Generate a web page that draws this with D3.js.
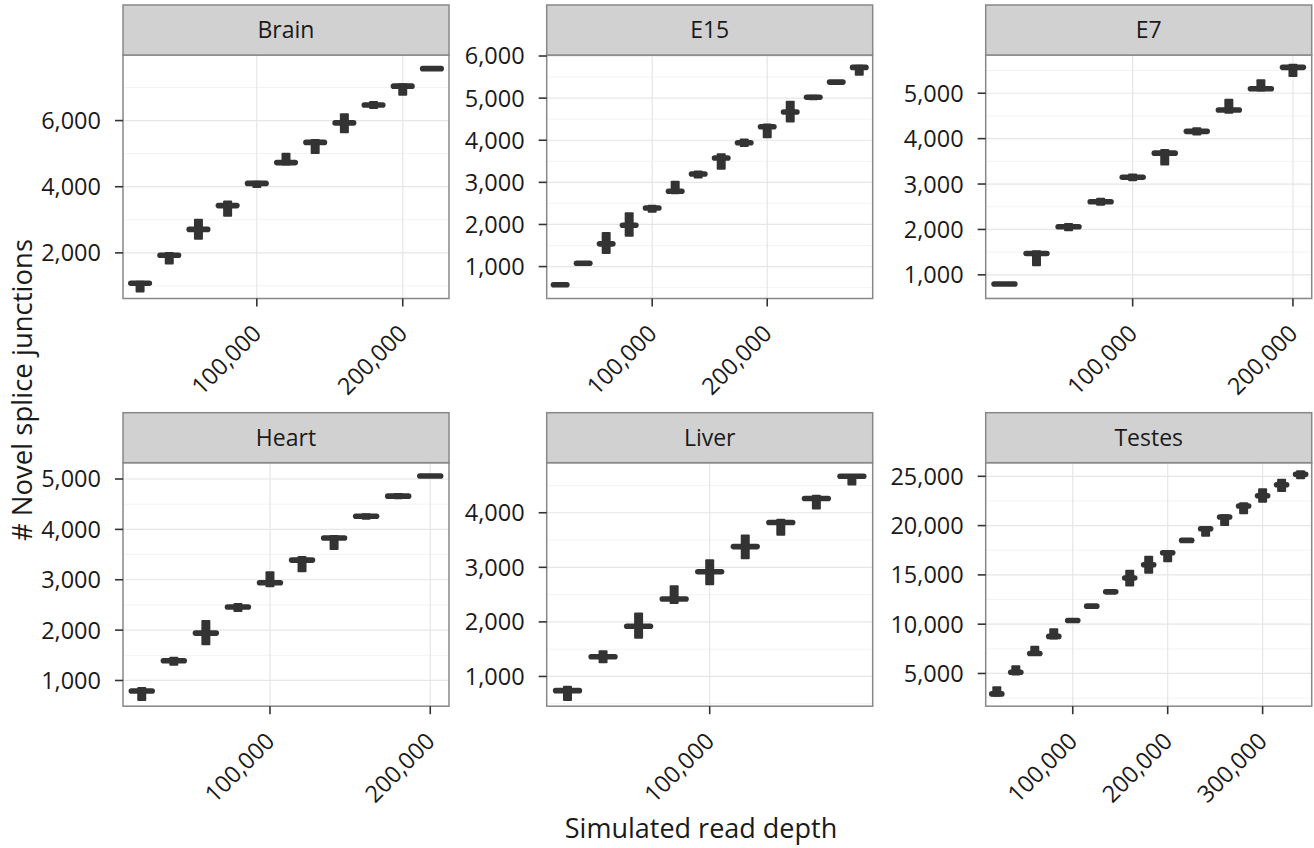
<!DOCTYPE html>
<html>
<head>
<meta charset="utf-8">
<script src="https://cdn.jsdelivr.net/npm/d3@7"></script>
<style>
  body { margin: 0; background: #fff; }
  text { font-family: "Open Sans", sans-serif; fill: #1a1a1a; }
</style>
</head>
<body>
<script>
// facet names, in reading order
let tissues = ["Brain", "E15", "E7", "Heart", "Liver", "Testes"];

// simulated read depths (each panel uses the first n of these)
let readDepths = [20000, 40000, 60000, 80000, 100000, 120000, 140000, 160000, 180000,
  200000, 220000, 240000, 260000, 280000, 300000, 320000, 340000];

// median / low end / high end of every box
let brainMid = [1080, 1930, 2710, 3430, 4100, 4730, 5340, 5930, 6470, 7040, 7570];
let brainLow = [800, 1650, 2400, 3090, 3960, 4640, 4990, 5620, 6350, 6750, 7510];
let brainHigh = [1160, 2030, 3030, 3580, 4180, 5030, 5440, 6220, 6590, 7130, 7630];

let e15Mid = [570, 1080, 1540, 1980, 2390, 2790, 3200, 3580, 3940, 4320, 4670, 5020, 5380, 5730];
let e15Low = [540, 1040, 1300, 1710, 2280, 2720, 3090, 3300, 3840, 4050, 4420, 4950, 5340, 5530];
let e15High = [600, 1110, 1820, 2290, 2470, 3040, 3280, 3690, 4040, 4400, 4940, 5080, 5420, 5790];

let e7Mid = [800, 1470, 2060, 2610, 3150, 3680, 4160, 4630, 5100, 5570];
let e7Low = [770, 1190, 1960, 2520, 3060, 3410, 4070, 4550, 5040, 5360];
let e7High = [830, 1540, 2140, 2700, 3230, 3770, 4250, 4880, 5310, 5650];

let heartMid = [790, 1390, 1940, 2460, 2940, 3390, 3830, 4260, 4660, 5060];
let heartLow = [590, 1290, 1700, 2360, 2850, 3150, 3590, 4190, 4600, 5020];
let heartHigh = [870, 1470, 2200, 2540, 3170, 3470, 3890, 4320, 4720, 5100];

let liverMid = [740, 1360, 1920, 2420, 2920, 3380, 3820, 4260, 4670];
let liverLow = [550, 1240, 1690, 2330, 2670, 3150, 3580, 4060, 4500];
let liverHigh = [830, 1480, 2170, 2670, 3150, 3600, 3890, 4330, 4710];

let testesMid = [2930, 5130, 7030, 8760, 10380, 11830, 13280, 14680, 16030, 17240,
  18500, 19680, 20870, 21990, 23030, 24150, 25200];
let testesLow = [2650, 4800, 6760, 8450, 10250, 11700, 13150, 13830, 15110, 16270,
  18400, 18870, 19950, 21140, 22320, 23410, 24700];
let testesHigh = [3710, 5840, 7800, 9600, 10500, 11950, 13400, 15520, 16940, 17520,
  18600, 19950, 21140, 22360, 23780, 24760, 25610];

let mids = [brainMid, e15Mid, e7Mid, heartMid, liverMid, testesMid];
let lows = [brainLow, e15Low, e7Low, heartLow, liverLow, testesLow];
let highs = [brainHigh, e15High, e7High, heartHigh, liverHigh, testesHigh];

// free y scales, one per panel
let yDomains = [[621, 7982], [242, 6024], [479, 5842], [489, 5324], [455, 4917], [1680, 26381]];
let yTicks = [
  [2000, 4000, 6000],
  [1000, 2000, 3000, 4000, 5000, 6000],
  [1000, 2000, 3000, 4000, 5000],
  [1000, 2000, 3000, 4000, 5000],
  [1000, 2000, 3000, 4000],
  [5000, 10000, 15000, 20000, 25000]
];
let xTicks = [
  [100000, 200000],
  [100000, 200000],
  [100000, 200000],
  [100000, 200000],
  [100000],
  [100000, 200000, 300000]
];

let W = 1314, H = 848;
let colLeft = [123, 546.7, 985.7],
  rowTop = [55, 462.7],
  panelW = 326,
  panelH = 243.5,
  stripH = 50;

let fmt = d3.format(",");

let svg = d3.select("body").append("svg")
  .attr("width", W)
  .attr("height", H);

tissues.forEach(function (name, k) {
  let left = colLeft[k % 3],
    top = rowTop[Math.floor(k / 3)];
  let n = mids[k].length,
    depths = readDepths.slice(0, n),
    step = depths[1] - depths[0],
    pad = step * 0.585;

  let x = d3.scaleLinear()
    .domain([depths[0] - pad, depths[n - 1] + pad])
    .range([0, panelW]);
  let y = d3.scaleLinear()
    .domain(yDomains[k])
    .range([panelH, 0]);

  let g = svg.append("g").attr("transform", "translate(" + left + "," + top + ")");

  // minor grid (half way between major ticks)
  let yt = yTicks[k], ys = yt[1] - yt[0];
  let minors = d3.range(yt[0] - ys / 2, yDomains[k][1], ys)
    .filter((v) => v > yDomains[k][0]);
  g.append("g").selectAll("line").data(minors).enter().append("line")
    .attr("x1", 0).attr("x2", panelW)
    .attr("y1", (d) => y(d)).attr("y2", (d) => y(d))
    .attr("stroke", "#f3f3f3").attr("stroke-width", 1);

  // major grid
  g.append("g").selectAll("line").data(yt).enter().append("line")
    .attr("x1", 0).attr("x2", panelW)
    .attr("y1", (d) => y(d)).attr("y2", (d) => y(d))
    .attr("stroke", "#e6e6e6").attr("stroke-width", 1.2);
  g.append("g").selectAll("line").data(xTicks[k]).enter().append("line")
    .attr("y1", 0).attr("y2", panelH)
    .attr("x1", (d) => x(d)).attr("x2", (d) => x(d))
    .attr("stroke", "#e6e6e6").attr("stroke-width", 1.2);

  // boxes: vertical body then thick median bar
  let boxW = x(16500) - x(0);
  let boxes = g.append("g").selectAll("g").data(depths).enter().append("g");
  boxes.append("rect")
    .attr("x", (d) => x(d) - 4.5)
    .attr("width", 9)
    .attr("y", (d, i) => y(highs[k][i]))
    .attr("height", (d, i) => y(lows[k][i]) - y(highs[k][i]))
    .attr("rx", 1)
    .attr("fill", "#333333");
  boxes.append("rect")
    .attr("x", (d) => x(d) - boxW / 2)
    .attr("width", boxW)
    .attr("y", (d, i) => y(mids[k][i]) - 2.8)
    .attr("height", 5.6)
    .attr("rx", 2.8)
    .attr("fill", "#333333");

  // panel border
  g.append("rect")
    .attr("width", panelW).attr("height", panelH)
    .attr("fill", "none").attr("stroke", "#888888").attr("stroke-width", 1.5);

  // strip
  g.append("rect")
    .attr("y", -stripH).attr("width", panelW).attr("height", stripH)
    .attr("fill", "#d1d1d1").attr("stroke", "#888888").attr("stroke-width", 1.5);
  g.append("text")
    .attr("x", panelW / 2).attr("y", -stripH / 2)
    .attr("dy", "0.36em")
    .attr("text-anchor", "middle")
    .style("font-size", "23px")
    .text(name);

  // y axis
  let ya = g.append("g").selectAll("g").data(yt).enter().append("g")
    .attr("transform", (d) => "translate(0," + y(d) + ")");
  ya.append("line").attr("x1", -8).attr("x2", 0)
    .attr("stroke", "#333").attr("stroke-width", 1.6);
  ya.append("text")
    .attr("x", -22).attr("dy", "0.36em")
    .attr("text-anchor", "end")
    .style("font-size", "23.5px")
    .text((d) => fmt(d));

  // x axis
  let xa = g.append("g").selectAll("g").data(xTicks[k]).enter().append("g")
    .attr("transform", (d) => "translate(" + x(d) + "," + panelH + ")");
  xa.append("line").attr("y1", 0).attr("y2", 8)
    .attr("stroke", "#333").attr("stroke-width", 1.6);
  xa.append("text")
    .attr("transform", "translate(-6.5,24) rotate(-45)")
    .attr("dy", "0.75em")
    .attr("text-anchor", "end")
    .style("font-size", "23.5px")
    .text((d) => fmt(d));
});

// axis titles
svg.append("text")
  .attr("transform", "translate(32,390) rotate(-90)")
  .attr("text-anchor", "middle")
  .style("font-size", "27.5px")
  .text("# Novel splice junctions");

svg.append("text")
  .attr("x", 701).attr("y", 838)
  .attr("text-anchor", "middle")
  .style("font-size", "27px")
  .text("Simulated read depth");
</script>
</body>
</html>
